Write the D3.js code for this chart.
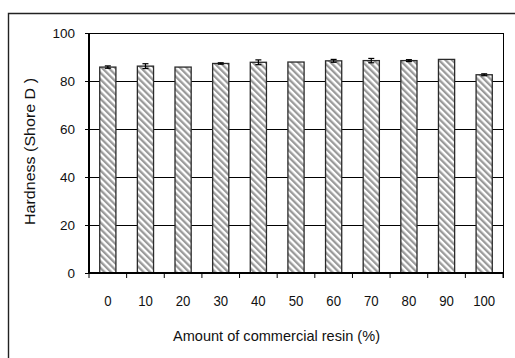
<!DOCTYPE html>
<html>
<head>
<meta charset="utf-8">
<script src="https://cdn.jsdelivr.net/npm/d3@7/dist/d3.min.js"></script>
<style>
  html, body { margin: 0; padding: 0; background: #fff; }
  svg { display: block; }
  text { font-family: "Liberation Sans", Arial, sans-serif; fill: #111; }
</style>
</head>
<body>
<svg id="chart" width="515" height="358"></svg>
<script>
// Shore D hardness versus commercial resin content
const categories = ["0", "10", "20", "30", "40", "50", "60", "70", "80", "90", "100"];
const hardness   = [85.8, 86.2, 85.8, 87.3, 87.8, 87.9, 88.4, 88.5, 88.5, 89.0, 82.6];
const errors     = [0.5, 1.0, 0, 0.3, 1.0, 0, 0.6, 0.9, 0.4, 0, 0.4];
const yTicks     = [0, 20, 40, 60, 80, 100];

const svg = d3.select("#chart");
const plot = { left: 89, right: 503, top: 33, bottom: 273 };

// Diagonal hatch used to fill the bars
const defs = svg.append("defs");
const pat = defs.append("pattern")
  .attr("id", "hatch")
  .attr("patternUnits", "userSpaceOnUse")
  .attr("width", 4.6).attr("height", 4.6)
  .attr("patternTransform", "rotate(-45)");
pat.append("rect").attr("width", 4.6).attr("height", 4.6).attr("fill", "#fff");
pat.append("rect").attr("width", 2.3).attr("height", 4.6).attr("fill", "#9a9a9a");

// Outer frame (left and top edges)
svg.append("path")
  .attr("d", "M8.5,358 V13.5 H515")
  .attr("fill", "none").attr("stroke", "#222").attr("stroke-width", 1.4);

const x = d3.scaleBand().domain(categories).range([plot.left, plot.right]).padding(0);
const y = d3.scaleLinear().domain([0, 100]).range([plot.bottom, plot.top]);
const barW = x.bandwidth() * 0.43;

// Horizontal gridlines and top border
svg.append("g").selectAll("line")
  .data(yTicks.filter(d => d > 0))
  .join("line")
  .attr("x1", plot.left).attr("x2", plot.right)
  .attr("y1", d => Math.round(y(d)) + 0.5).attr("y2", d => Math.round(y(d)) + 0.5)
  .attr("stroke", "#000").attr("stroke-width", 1);

// Right border of the plot area
svg.append("line")
  .attr("x1", plot.right + 0.5).attr("x2", plot.right + 0.5)
  .attr("y1", y(100)).attr("y2", plot.bottom + 5)
  .attr("stroke", "#000").attr("stroke-width", 1);

// Bars
svg.append("g").selectAll("rect")
  .data(hardness)
  .join("rect")
  .attr("x", (d, i) => x(categories[i]) + (x.bandwidth() - barW) / 2)
  .attr("y", d => y(d))
  .attr("width", barW)
  .attr("height", d => y(0) - y(d))
  .attr("fill", "url(#hatch)")
  .attr("stroke", "#2a2a2a").attr("stroke-width", 1.3);

// Error bars
const eb = svg.append("g").attr("stroke", "#000").attr("stroke-width", 1.2);
hardness.forEach((d, i) => {
  const e = errors[i];
  if (!e) return;
  const cx = x(categories[i]) + x.bandwidth() / 2;
  eb.append("line").attr("x1", cx).attr("x2", cx).attr("y1", y(d + e)).attr("y2", y(d - e));
  eb.append("line").attr("x1", cx - 3).attr("x2", cx + 3).attr("y1", y(d + e)).attr("y2", y(d + e));
  eb.append("line").attr("x1", cx - 3).attr("x2", cx + 3).attr("y1", y(d - e)).attr("y2", y(d - e));
});

// Y axis
const yAxis = svg.append("g")
  .attr("transform", `translate(${plot.left},0)`)
  .call(d3.axisLeft(y).tickValues(yTicks).tickSize(4).tickPadding(10));
yAxis.select(".domain").attr("stroke", "#000").attr("stroke-width", 2).attr("d", `M0,${plot.bottom}V${plot.top}`);
yAxis.selectAll(".tick line").attr("stroke", "#000").attr("stroke-width", 1);
yAxis.selectAll(".tick text")
  .style("font-family", "'Liberation Sans', Arial, sans-serif")
  .style("font-size", "13.5px").attr("fill", "#111");

// X axis: ticks mark the category boundaries
const xAxis = svg.append("g").attr("transform", `translate(0,${plot.bottom})`);
xAxis.append("line")
  .attr("x1", plot.left - 1).attr("x2", plot.right + 1)
  .attr("y1", 0).attr("y2", 0)
  .attr("stroke", "#000").attr("stroke-width", 2);
const boundaries = categories.map(c => x(c)).concat([plot.right]);
xAxis.selectAll("line.tk")
  .data(boundaries)
  .join("line").attr("class", "tk")
  .attr("x1", d => d).attr("x2", d => d)
  .attr("y1", 0).attr("y2", 5)
  .attr("stroke", "#000").attr("stroke-width", 1);
xAxis.selectAll("text")
  .data(categories)
  .join("text")
  .attr("transform", d => `translate(${x(d) + x.bandwidth() / 2},33) scale(0.88,1)`)
  .attr("text-anchor", "middle")
  .style("font-size", "15px")
  .text(d => d);

// Axis titles
svg.append("text")
  .attr("x", 276.5).attr("y", 341)
  .attr("text-anchor", "middle")
  .attr("textLength", 207).attr("lengthAdjust", "spacingAndGlyphs")
  .style("font-size", "15px")
  .text("Amount of commercial resin (%)");

svg.append("text")
  .attr("transform", "translate(35,151.5) rotate(-90)")
  .attr("text-anchor", "middle")
  .attr("textLength", 147).attr("lengthAdjust", "spacingAndGlyphs")
  .style("font-size", "14px")
  .text("Hardness (Shore D )");
</script>
</body>
</html>
